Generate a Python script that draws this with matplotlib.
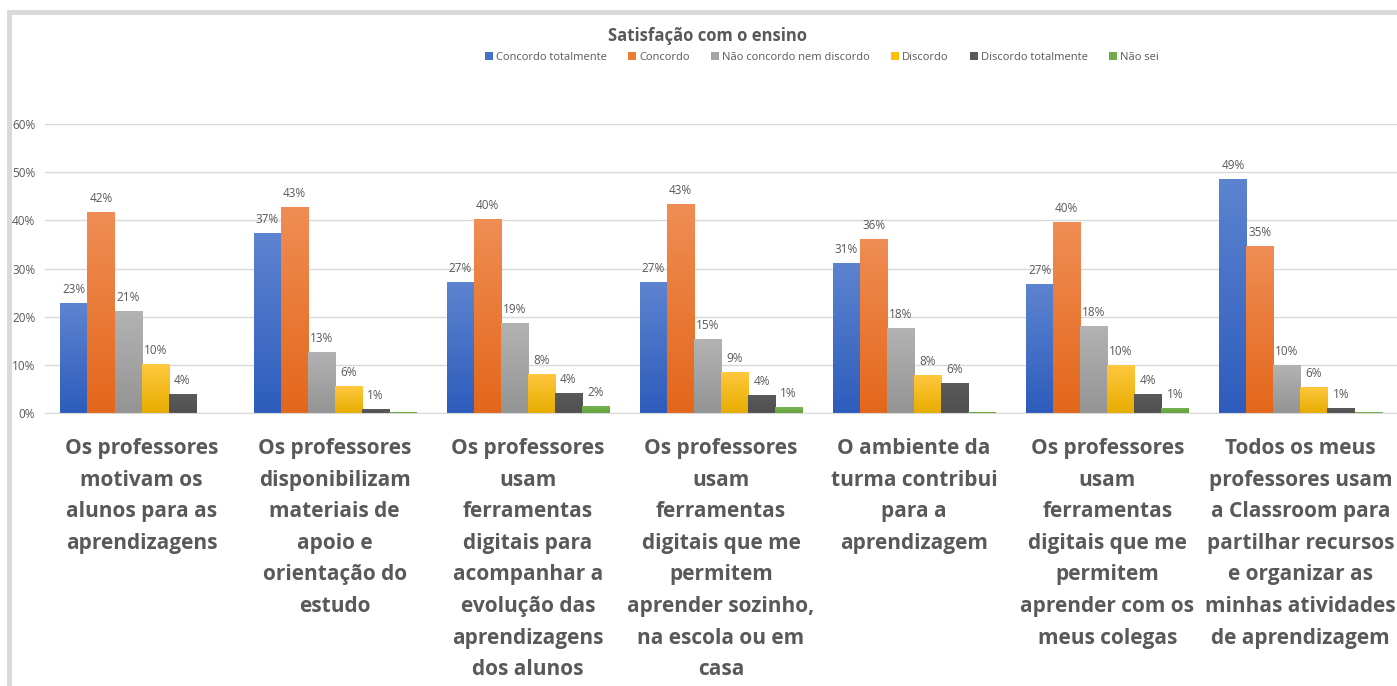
import numpy as np
import matplotlib
matplotlib.use('Agg')
import matplotlib.pyplot as plt
from matplotlib.patches import Rectangle
from matplotlib.colors import to_rgb
from matplotlib.ticker import FuncFormatter

plt.rcParams['font.family'] = ['Open Sans', 'DejaVu Sans']

title = 'Satisfação com o ensino'
series = ['Concordo totalmente', 'Concordo', 'Não concordo nem discordo',
          'Discordo', 'Discordo totalmente', 'Não sei']
categories = [
  'Os professores\nmotivam os\nalunos para as\naprendizagens',
  'Os professores\ndisponibilizam\nmateriais de\napoio e\norientação do\nestudo',
  'Os professores\nusam\nferramentas\ndigitais para\nacompanhar a\nevolução das\naprendizagens\ndos alunos',
  'Os professores\nusam\nferramentas\ndigitais que me\npermitem\naprender sozinho,\nna escola ou em\ncasa',
  'O ambiente da\nturma contribui\npara a\naprendizagem',
  'Os professores\nusam\nferramentas\ndigitais que me\npermitem\naprender com os\nmeus colegas',
  'Todos os meus\nprofessores usam\na Classroom para\npartilhar recursos\ne organizar as\nminhas atividades\nde aprendizagem',
]
# percentages per series, one value per category
concordo_tot = [22.8, 37.3, 27.2, 27.2, 31.2, 26.8, 48.6]
concordo     = [41.7, 42.8, 40.3, 43.4, 36.2, 39.6, 34.6]
nem_nem      = [21.1, 12.7, 18.6, 15.3, 17.6, 18.1, 10.0]
discordo     = [10.1, 5.6, 8.1, 8.6, 7.9, 10.0, 5.5]
disc_tot     = [3.9, 0.8, 4.1, 3.8, 6.3, 4.0, 1.0]
nao_sei      = [0.0, 0.3, 1.5, 1.2, 0.3, 1.1, 0.2]
values = [concordo_tot, concordo, nem_nem, discordo, disc_tot, nao_sei]

# (top, bottom) colours of the Excel-like gradient
grad = [('#5d84d0', '#2d5cbc'), ('#f08d55', '#e3671a'), ('#b3b3b3', '#949494'),
        ('#ffc83f', '#e8ad00'), ('#5a5a5a', '#505050'), ('#7ab553', '#62a23a')]
solid = ['#4472c4', '#ed7d31', '#a5a5a5', '#ffc000', '#595959', '#70ad47']
text_c = '#595959'

W, H = 1397, 686
fig = plt.figure(figsize=(W / 100, H / 100), dpi=100)
fig.patches.append(Rectangle((9 / W, -0.2), 1.2, 1.2 - 12 / H, transform=fig.transFigure,
                             fill=False, ec='#d9d9d9', lw=3.5))

ax = fig.add_axes([45 / W, 1 - 413 / H, 1352 / W, 289 / H])
n = len(series)
bw = 0.14
x = np.arange(len(categories))
for j, (name, vals) in enumerate(zip(series, values)):
  pos = x - bw * n / 2 + bw * (j + 0.5)
  bars = ax.bar(pos, vals, bw, color=solid[j], label=name, zorder=2)
  top, bot = np.array(to_rgb(grad[j][0])), np.array(to_rgb(grad[j][1]))
  t = np.linspace(0, 1, 128)[:, None, None]
  img = top * (1 - t) + bot * t
  for b, v in zip(bars, vals):
    if v <= 0:
      continue
    im = ax.imshow(img, extent=[b.get_x(), b.get_x() + bw, 0, v], aspect='auto',
                   zorder=2.5, interpolation='bilinear')
    im.set_clip_path(b)
    if v >= 0.5:
      ax.annotate(f'{v:.0f}%', (b.get_x() + bw / 2, v), xytext=(0, 5),
                  textcoords='offset points', ha='center', va='bottom',
                  fontsize=8.5, color=text_c)

ax.set_xlim(-0.5, len(categories) - 0.5)
ax.set_ylim(0, 60)
ax.set_yticks(np.arange(0, 61, 10))
ax.yaxis.set_major_formatter(FuncFormatter(lambda v, p: f'{v:.0f}%'))
ax.tick_params(axis='y', length=0, labelsize=8.5, labelcolor=text_c, pad=7)
ax.set_xticks([])
ax.grid(axis='y', color='#d9d9d9', lw=1, zorder=0)
ax.set_axisbelow(True)
for s in ['top', 'right', 'left']:
  ax.spines[s].set_visible(False)
ax.spines['bottom'].set_color('#d9d9d9')

for i, lab in enumerate(categories):
  ax.text(i, -0.087, lab, transform=ax.get_xaxis_transform(), ha='center', va='top',
          fontsize=15, fontweight='bold', color=text_c, linespacing=1.66)

fig.text(707 / W, 1 - 36 / H, title, ha='center', va='center', fontsize=12,
         fontweight='bold', color=text_c)
fig.legend(loc='center', bbox_to_anchor=(822 / W, 1 - 57 / H), ncol=6, frameon=False,
           fontsize=8, labelcolor=text_c, handlelength=0.7, handleheight=0.7,
           handletextpad=0.3, columnspacing=1.9)

fig.savefig('out.png', dpi=100)
